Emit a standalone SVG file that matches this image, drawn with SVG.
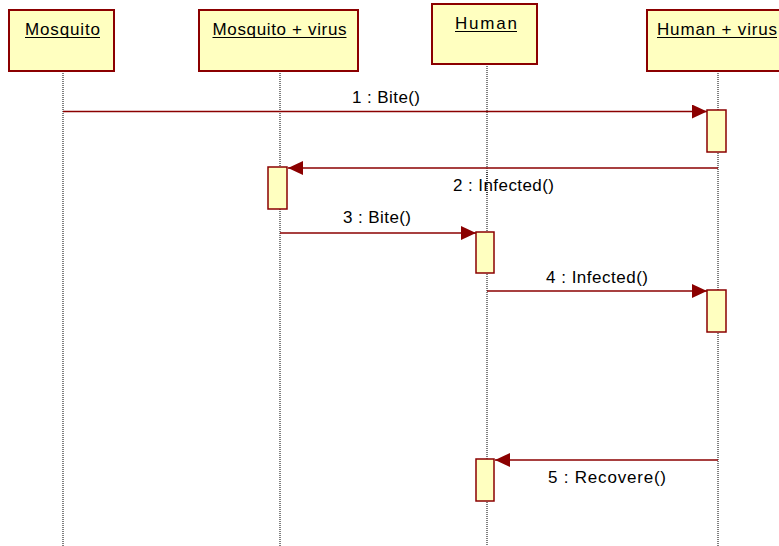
<svg xmlns="http://www.w3.org/2000/svg" width="779" height="546" viewBox="0 0 779 546">
  <style>
    .obj { fill: #ffffc0; stroke: #8b0000; stroke-width: 2; }
    .act { fill: #ffffc0; stroke: #8b0000; stroke-width: 1.5; }
    .life { stroke: #000; stroke-width: 1; stroke-dasharray: 1 1; fill: none; }
    .msg { stroke: #8b0000; stroke-width: 1.6; fill: none; }
    .name { font-family: "Liberation Sans", Arial, sans-serif; font-size: 17px; fill: #000; text-anchor: middle; }
    .lbl { font-family: "Liberation Sans", Arial, sans-serif; font-size: 17px; fill: #000; text-anchor: middle; }
    .ul { stroke: #000; stroke-width: 1.2; }
  </style>
  <defs>
    <marker id="arrow" viewBox="0 0 15 14" refX="15" refY="7" markerWidth="15" markerHeight="14" markerUnits="userSpaceOnUse" orient="auto">
      <path d="M0,0 L15,7 L0,14 Z" fill="#8b0000"/>
    </marker>
  </defs>
  <rect width="779" height="546" fill="#fff"/>

  <!-- lifelines -->
  <g id="lifelines">
    <line class="life" x1="63" y1="71" x2="63" y2="546"/>
    <line class="life" x1="280" y1="71" x2="280" y2="546"/>
    <line class="life" x1="487" y1="64" x2="487" y2="546"/>
    <line class="life" x1="718" y1="71" x2="718" y2="546"/>
  </g>

  <!-- objects -->
  <g id="mosquito">
    <rect class="obj" x="9" y="10" width="105" height="61"/>
    <text class="name" x="62.5" y="35" textLength="75" lengthAdjust="spacing">Mosquito</text>
    <line class="ul" x1="25" y1="37.5" x2="100" y2="37.5"/>
  </g>
  <g id="mosquito-virus">
    <rect class="obj" x="199" y="10" width="159" height="61"/>
    <text class="name" x="279.5" y="35" textLength="134" lengthAdjust="spacing">Mosquito + virus</text>
    <line class="ul" x1="212.5" y1="37.5" x2="346.5" y2="37.5"/>
  </g>
  <g id="human">
    <rect class="obj" x="432" y="4" width="105" height="60"/>
    <text class="name" x="486" y="29" textLength="62" lengthAdjust="spacing">Human</text>
    <line class="ul" x1="455" y1="31.5" x2="517" y2="31.5"/>
  </g>
  <g id="human-virus">
    <rect class="obj" x="647" y="10" width="150" height="61"/>
    <text class="name" x="717" y="35" textLength="120" lengthAdjust="spacing">Human + virus</text>
    <line class="ul" x1="657" y1="37.5" x2="777" y2="37.5"/>
  </g>

  <!-- activations -->
  <g id="activations">
    <rect class="act" x="707" y="110" width="19" height="42"/>
    <rect class="act" x="268" y="167" width="19" height="42"/>
    <rect class="act" x="476" y="232" width="18" height="41"/>
    <rect class="act" x="707" y="290" width="19" height="42"/>
    <rect class="act" x="476" y="459" width="18" height="42"/>
  </g>

  <!-- messages -->
  <g id="connectors">
    <line class="msg" x1="63" y1="111.5" x2="707" y2="111.5" marker-end="url(#arrow)"/>
    <line class="msg" x1="718" y1="168" x2="288" y2="168" marker-end="url(#arrow)"/>
    <line class="msg" x1="280" y1="233" x2="476" y2="233" marker-end="url(#arrow)"/>
    <line class="msg" x1="487" y1="291" x2="707" y2="291" marker-end="url(#arrow)"/>
    <line class="msg" x1="718" y1="460" x2="495" y2="460" marker-end="url(#arrow)"/>
  </g>

  <g id="labels">
    <text class="lbl" x="386" y="103" textLength="68" lengthAdjust="spacing">1 : Bite()</text>
    <text class="lbl" x="503.5" y="191" textLength="101" lengthAdjust="spacing">2 : Infected()</text>
    <text class="lbl" x="377" y="223" textLength="68" lengthAdjust="spacing">3 : Bite()</text>
    <text class="lbl" x="597" y="283" textLength="102" lengthAdjust="spacing">4 : Infected()</text>
    <text class="lbl" x="607" y="483" textLength="118" lengthAdjust="spacing">5 : Recovere()</text>
  </g>

  <!-- lifeline dots show through the label crossing it -->
  <line class="life" x1="487" y1="172" x2="487" y2="196"/>
</svg>
